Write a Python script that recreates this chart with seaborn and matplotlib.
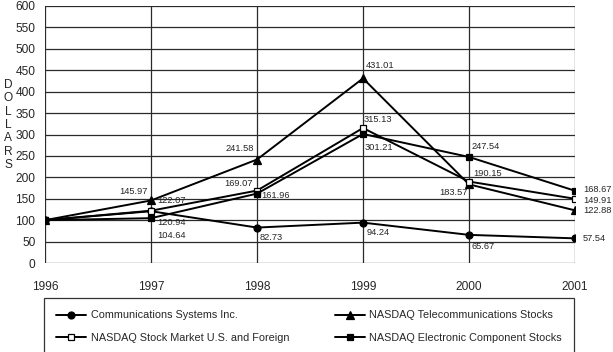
import pandas as pd
import matplotlib.pyplot as plt
import seaborn as sns

# Data
years = [1996, 1997, 1998, 1999, 2000, 2001]
comm_systems = [100, 120.94, 82.73, 94.24, 65.67, 57.54]
nasdaq_telecom = [100, 145.97, 241.58, 431.01, 183.57, 122.88]
nasdaq_market = [100, 122.07, 169.07, 315.13, 190.15, 149.91]
nasdaq_electronic = [100, 104.64, 161.96, 301.21, 247.54, 168.67]

series_names = [
    "Communications Systems Inc.",
    "NASDAQ Telecommunications Stocks",
    "NASDAQ Stock Market U.S. and Foreign",
    "NASDAQ Electronic Component Stocks",
]
series_values = [comm_systems, nasdaq_telecom, nasdaq_market, nasdaq_electronic]

rows = []
for name, vals in zip(series_names, series_values):
    for yr, v in zip(years, vals):
        rows.append({"Year": yr, "Value": v, "Series": name})
df = pd.DataFrame(rows)

sns.set_style("white")
plt.rcParams["font.family"] = ["Liberation Sans", "DejaVu Sans"]

fig = plt.figure(figsize=(6.13, 3.52), dpi=100)
ax = fig.add_axes([45 / 613, 1 - 263 / 352, 530 / 613, 257 / 352])

styles = {
    series_names[0]: dict(marker="o", markerfacecolor="black", markersize=5),
    series_names[1]: dict(marker="^", markerfacecolor="black", markersize=5.5),
    series_names[2]: dict(marker="s", markerfacecolor="white", markersize=4.5),
    series_names[3]: dict(marker="s", markerfacecolor="black", markersize=4.5),
}

for name in series_names:
    sub = df[df["Series"] == name]
    sns.lineplot(data=sub, x="Year", y="Value", ax=ax, color="black", linewidth=1.4,
                 markeredgecolor="black", markeredgewidth=0.9,
                 label=name, zorder=3, **styles[name])

# value label offsets in pixels: (dx, dy, ha)
offsets = {
    series_names[0]: [None, (6, -11, "left"), (3, -10, "left"), (4, -10, "left"),
                      (3, -12, "left"), (8, 0, "left")],
    series_names[1]: [None, (-3, 8.5, "right"), (-3, 11.5, "right"), (3, 13, "left"),
                      (-1, -8.5, "right"), (8, -0.5, "left")],
    series_names[2]: [None, (6, 10, "left"), (-4, 7.5, "right"), (1, 9, "left"),
                      (4, 8.5, "left"), (8, -1.5, "left")],
    series_names[3]: [None, (6, -17, "left"), (4, -2, "left"), (2, -14, "left"),
                      (3, 10, "left"), (8, 1.5, "left")],
}
for name, vals in zip(series_names, series_values):
    for yr, v, off in zip(years, vals, offsets[name]):
        if off is None:
            continue
        dx, dy, ha = off
        ax.annotate(f"{v:.2f}", (yr, v), xytext=(dx, dy), textcoords="offset pixels",
                    ha=ha, va="center", fontsize=6.7, zorder=5)

ax.set_xlim(1996, 2001)
ax.set_ylim(0, 600)
ax.set_xticks(years)
ax.set_yticks(range(0, 601, 50))
ax.set_xlabel("")
ax.set_ylabel("")
ax.grid(True, color="#2a2a2a", linewidth=0.9)
ax.set_axisbelow(True)
for s in ax.spines.values():
    s.set_visible(False)
ax.tick_params(axis="both", direction="out", length=5, width=0.9, color="#2a2a2a", labelsize=8.6)
ax.tick_params(axis="x", pad=8)
ax.tick_params(axis="y", pad=2)

fig.text(8 / 613, 1 - 125 / 352, "D\nO\nL\nL\nA\nR\nS", ha="center", va="center",
         fontsize=8.6, linespacing=1.15)

handles, labels = ax.get_legend_handles_labels()
order = [0, 2, 1, 3]
leg = ax.legend([handles[i] for i in order], [labels[i] for i in order], ncol=2,
                loc="upper left", bbox_to_anchor=(44 / 613, 1 - 302 / 352, 530 / 613, 0.01),
                bbox_transform=fig.transFigure, mode="expand", fontsize=7.8,
                frameon=True, fancybox=False, edgecolor="black", handlelength=2.75,
                handletextpad=0.45, columnspacing=3, borderaxespad=0, borderpad=1.1,
                labelspacing=1.15)
leg.get_frame().set_linewidth(0.9)

fig.savefig("out.png", dpi=100)
